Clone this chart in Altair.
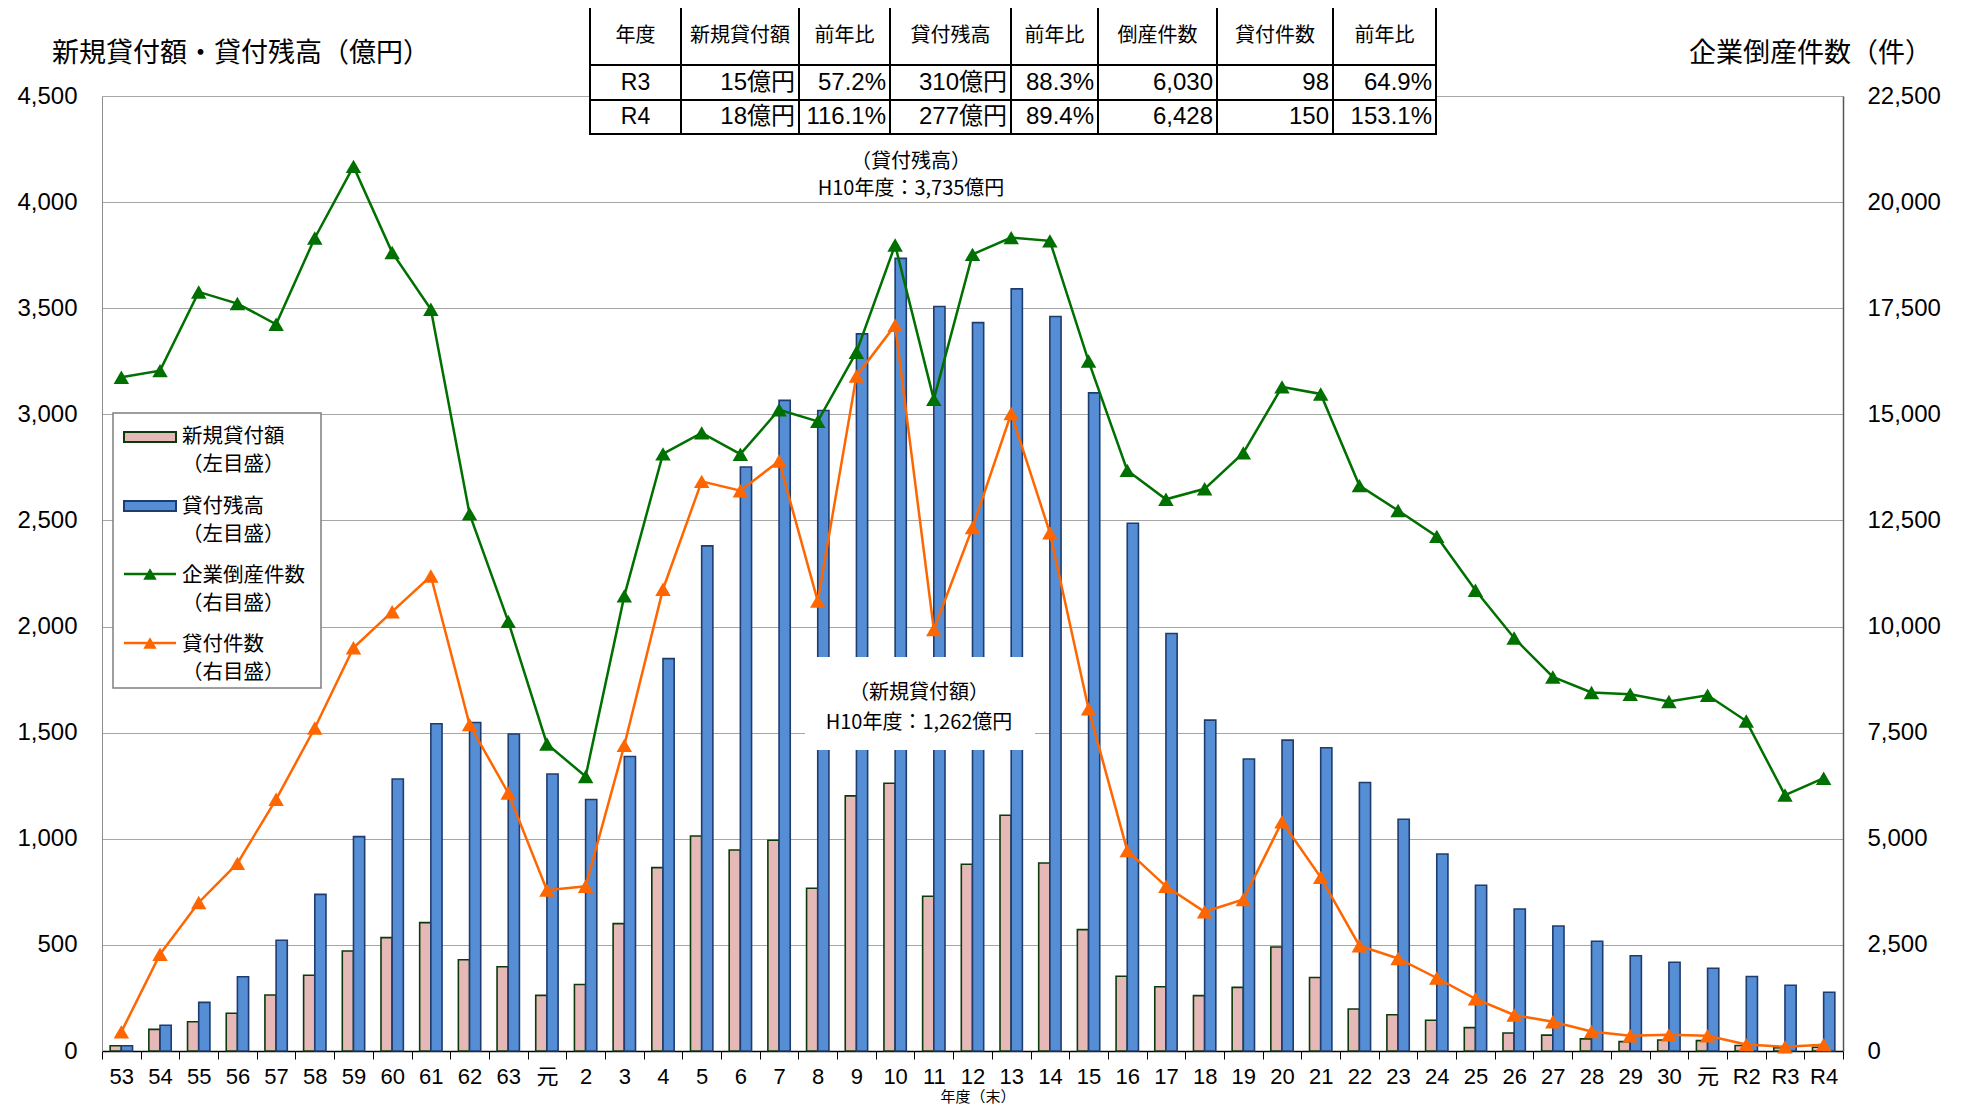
import altair as alt
import pandas as pd

# ---------------- data ----------------
labels = ['53', '54', '55', '56', '57', '58', '59', '60', '61', '62', '63', '元',
          '2', '3', '4', '5', '6', '7', '8', '9', '10', '11', '12', '13', '14', '15',
          '16', '17', '18', '19', '20', '21', '22', '23', '24', '25', '26', '27', '28',
          '29', '30', '元', 'R2', 'R3', 'R4']

new_loans = [25, 102, 138, 178, 264, 357, 471, 534, 605, 430, 397, 262,
             313, 600, 864, 1013, 947, 993, 767, 1202, 1262, 729, 880, 1111, 886, 572,
             352, 303, 261, 300, 490, 346, 198, 171, 145, 110, 85, 75, 57,
             44, 52, 49, 26, 15, 18]

balance = [25, 121, 229, 350, 522, 738, 1010, 1282, 1542, 1548, 1494, 1305,
           1185, 1388, 1849, 2380, 2752, 3066, 3018, 3379, 3735, 3508, 3432, 3591, 3461, 3101,
           2487, 1967, 1559, 1376, 1465, 1429, 1265, 1092, 928, 781, 669, 589, 517,
           449, 418, 390, 351, 310, 277]

bankruptcies = [15875, 16030, 17884, 17610, 17122, 19155, 20841, 18812, 17476, 12655, 10122, 7234,
                6468, 10723, 14069, 14564, 14061, 15108, 14834, 16464, 18988, 15352, 18769, 19164, 19087, 16255,
                13679, 12998, 13245, 14091, 15646, 15480, 13321, 12734, 12124, 10855, 9731, 8812, 8446,
                8405, 8235, 8383, 7773, 6030, 6428]

loan_counts = [450, 2280, 3500, 4420, 5930, 7610, 9500, 10350, 11190, 7690, 6080, 3790,
               3880, 7200, 10880, 13420, 13200, 13900, 10600, 15900, 17100, 9930, 12330, 15020, 12210, 8060,
               4720, 3880, 3280, 3570, 5400, 4090, 2480, 2180, 1720, 1230, 850, 690, 460,
               360, 380, 360, 151, 98, 150]

table_header = ['年度', '新規貸付額', '前年比', '貸付残高', '前年比', '倒産件数', '貸付件数', '前年比']
table_r3 = ['R3', '15億円', '57.2%', '310億円', '88.3%', '6,030', '98', '64.9%']
table_r4 = ['R4', '18億円', '116.1%', '277億円', '89.4%', '6,428', '150', '153.1%']

bar_series = ['新規貸付額', '貸付残高']
legend_lines1 = ['新規貸付額', '貸付残高', '企業倒産件数', '貸付件数']
legend_lines2 = ['（左目盛）', '（左目盛）', '（右目盛）', '（右目盛）']

# ---------------- style / layout ----------------
W, H = 1741, 955
CJK = "Noto Sans CJK JP"
LAT = "Liberation Sans, Noto Sans CJK JP"
PINK, PINK_EDGE = "#E6B9B8", "#0B3B0B"
BLUE, BLUE_EDGE = "#558ED5", "#1F3C6E"
GREEN, ORANGE = "#007000", "#FF6600"

keys = [f"{i:02d}" for i in range(len(labels))]
label_expr = "[" + ",".join(f"'{l}'" for l in labels) + "][toNumber(datum.value)]"

bars_df = pd.DataFrame({
    'key': keys * 2,
    'series': [bar_series[0]] * len(keys) + [bar_series[1]] * len(keys),
    'value': new_loans + balance,
})
green_df = pd.DataFrame({'key': keys, 'value': bankruptcies})
orange_df = pd.DataFrame({'key': keys, 'value': loan_counts})

x_scale = alt.Scale(paddingInner=0, paddingOuter=0)


def px(f):
    return alt.X(f"{f}:Q", scale=None, axis=None)


def py(f):
    return alt.Y(f"{f}:Q", scale=None, axis=None)


def texts(df, size, align="center", font=CJK, baseline="middle"):
    return alt.Chart(df).mark_text(align=align, baseline=baseline, fontSize=size,
                                   font=font, color="black").encode(
        x=px("x"), y=py("y"), text="t:N")


bars = alt.Chart(bars_df).mark_bar(strokeWidth=1.6).encode(
    x=alt.X("key:N", sort=keys, scale=x_scale, title=None,
            axis=alt.Axis(labelExpr=label_expr, labelAngle=0, labelFontSize=22, labelFont=LAT,
                          labelColor="black", labelPadding=7, tickBand="extent", ticks=True,
                          tickSize=8, tickColor="black", domainColor="black", domainWidth=1.5,
                          grid=False, labelOverlap=False)),
    xOffset=alt.XOffset("series:N", sort=bar_series,
                        scale=alt.Scale(paddingOuter=0.73, paddingInner=0)),
    y=alt.Y("value:Q", scale=alt.Scale(domain=[0, 4500], nice=False), title=None,
            axis=alt.Axis(orient="left", values=list(range(0, 4501, 500)), format=",.0f",
                          labelFontSize=24, labelFont=LAT, labelColor="black", labelPadding=25,
                          ticks=False, domainColor="#8C8C8C", grid=True, gridColor="#A6A6A6",
                          gridWidth=1)),
    color=alt.Color("series:N", scale=alt.Scale(domain=bar_series, range=[PINK, BLUE]), legend=None),
    stroke=alt.Stroke("series:N", scale=alt.Scale(domain=bar_series, range=[PINK_EDGE, BLUE_EDGE]),
                      legend=None),
)

right_y = alt.Scale(domain=[0, 22500], nice=False)

green = alt.Chart(green_df).mark_line(
    color=GREEN, strokeWidth=2.5,
    point=alt.OverlayMarkDef(shape="triangle-up", size=240, filled=True, color=GREEN, opacity=1)
).encode(
    x=alt.X("key:N", sort=keys, scale=x_scale, axis=None),
    y=alt.Y("value:Q", scale=right_y, title=None,
            axis=alt.Axis(orient="right", values=list(range(0, 22501, 2500)), format=",.0f",
                          labelFontSize=24, labelFont=LAT, labelColor="black", labelPadding=24,
                          ticks=False, domainColor="#555555", domainWidth=1.5, grid=False)),
)

orange = alt.Chart(orange_df).mark_line(
    color=ORANGE, strokeWidth=2.5,
    point=alt.OverlayMarkDef(shape="triangle-up", size=240, filled=True, color=ORANGE, opacity=1)
).encode(
    x=alt.X("key:N", sort=keys, scale=x_scale, axis=None),
    y=alt.Y("value:Q", scale=right_y, axis=None),
)

# ---- annotation (新規貸付額) with white box ----
ann_box = alt.Chart(pd.DataFrame({'x': [703], 'x2': [933], 'y': [561], 'y2': [654]})).mark_rect(
    color="white").encode(x=px("x"), x2="x2:Q", y=py("y"), y2="y2:Q")
ann_text = texts(pd.DataFrame({
    'x': [809, 809, 817, 817],
    'y': [66, 93, 597, 627],
    't': ['（貸付残高）', 'H10年度：3,735億円', '（新規貸付額）', 'H10年度：1,262億円'],
}), 20)

# ---- table ----
col_edges = [488, 579, 697, 788, 909, 996, 1115, 1231, 1334]
row_edges = [-90, -31, 4, 38]
table_rect = alt.Chart(pd.DataFrame({'x': [col_edges[0]], 'x2': [col_edges[-1]],
                                     'y': [row_edges[0]], 'y2': [row_edges[-1]]})).mark_rect(
    fill="white", stroke="black", strokeWidth=2).encode(x=px("x"), x2="x2:Q", y=py("y"), y2="y2:Q")
rules = []
for cx in col_edges[1:-1]:
    rules.append({'x': cx, 'x2': cx, 'y': row_edges[0], 'y2': row_edges[-1]})
for ry in row_edges[1:-1]:
    rules.append({'x': col_edges[0], 'x2': col_edges[-1], 'y': ry, 'y2': ry})
table_rules = alt.Chart(pd.DataFrame(rules)).mark_rule(color="black", strokeWidth=2).encode(
    x=px("x"), x2="x2:Q", y=py("y"), y2="y2:Q")

centers = [(col_edges[i] + col_edges[i + 1]) / 2 for i in range(len(table_header))]
rows_y = [(row_edges[i] + row_edges[i + 1]) / 2 for i in range(3)]
head_df = pd.DataFrame({'x': centers, 'y': [rows_y[0]] * len(centers), 't': table_header})
year_df = pd.DataFrame({'x': [centers[0]] * 2, 'y': rows_y[1:], 't': [table_r3[0], table_r4[0]]})
val_rows = []
for r, row in zip(rows_y[1:], [table_r3, table_r4]):
    for i in range(1, len(row)):
        val_rows.append({'x': col_edges[i + 1] - 4, 'y': r, 't': row[i]})
val_df = pd.DataFrame(val_rows)

table_head = texts(head_df, 20)
table_year = texts(year_df, 23, font=LAT)
table_vals = texts(val_df, 24, align="right", font=LAT)

# ---- legend ----
leg_box = alt.Chart(pd.DataFrame({'x': [11], 'x2': [219], 'y': [317], 'y2': [592]})).mark_rect(
    fill="white", stroke="#7F7F7F", strokeWidth=1.5).encode(x=px("x"), x2="x2:Q", y=py("y"), y2="y2:Q")
leg_sw = alt.Chart(pd.DataFrame({'x': [22, 22], 'x2': [74, 74], 'y': [336, 405], 'y2': [346, 415],
                                 's': bar_series})).mark_rect(strokeWidth=2).encode(
    x=px("x"), x2="x2:Q", y=py("y"), y2="y2:Q",
    fill=alt.Fill("s:N", scale=alt.Scale(domain=bar_series, range=[PINK, BLUE]), legend=None),
    stroke=alt.Stroke("s:N", scale=alt.Scale(domain=bar_series, range=[PINK_EDGE, BLUE_EDGE]), legend=None))
line_names = legend_lines1[2:]
leg_ln = alt.Chart(pd.DataFrame({'x': [22, 22], 'x2': [74, 74], 'y': [478, 547], 's': line_names})).mark_rule(
    strokeWidth=2.5).encode(
    x=px("x"), x2="x2:Q", y=py("y"),
    color=alt.Color("s:N", scale=alt.Scale(domain=line_names, range=[GREEN, ORANGE]), legend=None))
leg_pt = alt.Chart(pd.DataFrame({'x': [48, 48], 'y': [478, 547], 's': line_names})).mark_point(
    shape="triangle-up", size=180, filled=True, opacity=1).encode(
    x=px("x"), y=py("y"),
    color=alt.Color("s:N", scale=alt.Scale(domain=line_names, range=[GREEN, ORANGE]), legend=None))
leg_y1 = [341, 411, 480, 549]
leg_y2 = [369, 439, 508, 577]
leg_txt = texts(pd.DataFrame({'x': [80] * 8, 'y': leg_y1 + leg_y2, 't': legend_lines1 + legend_lines2}),
                20.5, align="left")

# ---- titles ----
title_l = texts(pd.DataFrame({'x': [-50], 'y': [-42], 't': ['新規貸付額・貸付残高（億円）']}), 27, align="left")
title_r = texts(pd.DataFrame({'x': [1830], 'y': [-42], 't': ['企業倒産件数（件）']}), 27, align="right")
title_x = texts(pd.DataFrame({'x': [876], 'y': [1009], 't': ['年度（末）']}), 15, baseline="bottom")

chart = alt.layer(
    bars, ann_box, ann_text, green, orange,
    table_rect, table_rules, table_head, table_year, table_vals,
    leg_box, leg_sw, leg_ln, leg_pt, leg_txt,
    title_l, title_r, title_x,
).resolve_scale(
    y="independent", color="independent", stroke="independent", fill="independent"
).resolve_axis(
    x="independent"
).properties(
    width=W, height=H,
    autosize=alt.AutoSizeParams(type="none"),
    padding={"left": 94, "top": 88, "right": 112, "bottom": 54},
).configure_view(stroke=None).configure(background="white")

chart.save("out.html", embed_options={"renderer": "svg", "actions": False})
